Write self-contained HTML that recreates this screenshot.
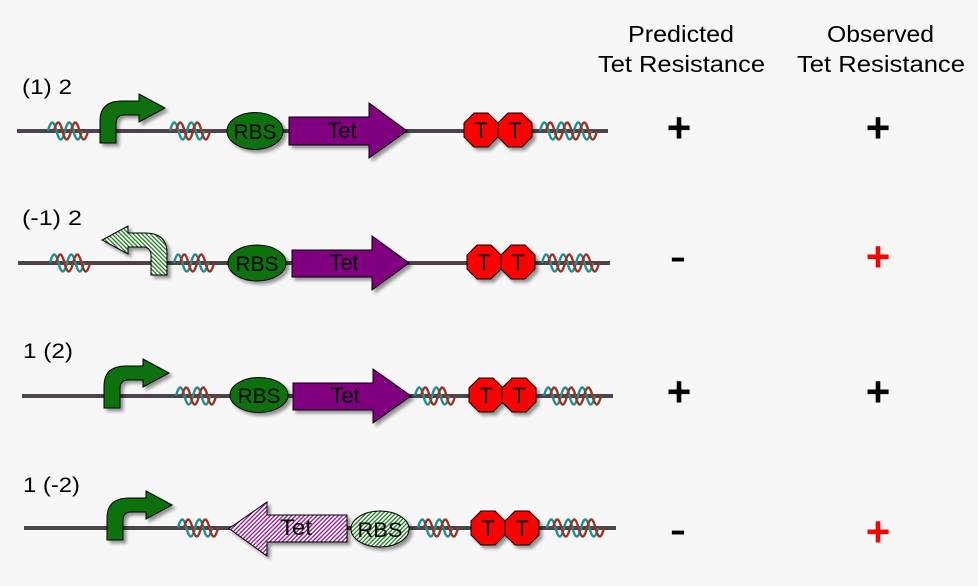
<!DOCTYPE html>
<html>
<head>
<meta charset="utf-8">
<style>
html,body{margin:0;padding:0;background:#f7f7f7;}
svg{display:block;}
text{font-family:"Liberation Sans",Arial,sans-serif;}
</style>
</head>
<body>
<svg width="978" height="586" viewBox="0 0 978 586" xmlns="http://www.w3.org/2000/svg">
<defs>
  <filter id="sh" x="-20%" y="-20%" width="150%" height="160%">
    <feDropShadow dx="3" dy="3" stdDeviation="1.6" flood-color="#000" flood-opacity="0.4"/>
  </filter>
  <pattern id="hg" width="3" height="3" patternUnits="userSpaceOnUse" patternTransform="rotate(45)">
    <rect width="3" height="3" fill="#ffffff"/>
    <line x1="0.8" y1="0" x2="0.8" y2="3" stroke="#0a6e0a" stroke-width="1.2"/>
  </pattern>
  <pattern id="hp" width="3" height="3" patternUnits="userSpaceOnUse" patternTransform="rotate(45)">
    <rect width="3" height="3" fill="#ffffff"/>
    <line x1="0.8" y1="0" x2="0.8" y2="3" stroke="#800080" stroke-width="1.2"/>
  </pattern>
  <g id="hx3">
    <path d="M0,0 Q4.25,-17 8.5,0 T17,0 T25.5,0 T34,0" fill="none" stroke="#1a9090" stroke-width="2.4"/>
    <path d="M6,0 Q10.25,-17 14.5,0 T23,0 T31.5,0 T40,0" fill="none" stroke="#993322" stroke-width="2.4"/>
  </g>
  <g id="hx4">
    <path d="M0,0 Q4.25,-17 8.5,0 T17,0 T25.5,0 T34,0 T42.5,0 T51,0" fill="none" stroke="#1a9090" stroke-width="2.4"/>
    <path d="M6,0 Q10.25,-17 14.5,0 T23,0 T31.5,0 T40,0 T48.5,0 T57,0" fill="none" stroke="#993322" stroke-width="2.4"/>
  </g>
  <path id="prom" d="M0,0 L0,-22 Q0,-42 22,-42 L39,-42 L39,-49 L65,-35 L39,-21 L39,-28 L24,-28 Q16,-28 16,-19 L16,0 Z"/>
  <polygon id="oct" points="-7,-17 7,-17 17,-7 17,7 7,17 -7,17 -17,7 -17,-7"/>
</defs>

<!-- Headers -->
<text x="628" y="42" font-size="23" textLength="106" lengthAdjust="spacingAndGlyphs">Predicted</text>
<text x="598" y="72" font-size="23" textLength="167" lengthAdjust="spacingAndGlyphs">Tet Resistance</text>
<text x="827" y="42" font-size="23" textLength="107" lengthAdjust="spacingAndGlyphs">Observed</text>
<text x="797" y="72" font-size="23" textLength="168" lengthAdjust="spacingAndGlyphs">Tet Resistance</text>

<!-- Row 1 -->
<text x="22" y="94" font-size="21" textLength="50" lengthAdjust="spacingAndGlyphs">(1) 2</text>
<path d="M17,131 H608" stroke="#4d434d" stroke-width="4"/>
<use href="#hx3" x="48" y="131"/>
<use href="#hx3" x="170" y="131"/>
<use href="#hx4" x="540" y="131"/>
<g filter="url(#sh)">
  <use href="#prom" transform="translate(100,143)" fill="#0b720b" stroke="#000" stroke-width="1"/>
  <ellipse cx="255" cy="131" rx="28" ry="18.5" fill="#0b720b" stroke="#000" stroke-width="1"/>
  <path d="M289,117 L369,117 L369,103 L407,131 L369,158 L369,145 L289,145 Z" fill="#800080" stroke="#000" stroke-width="1"/>
  <use href="#oct" transform="translate(481,130)" fill="#ff0000" stroke="#000" stroke-width="1"/>
  <use href="#oct" transform="translate(515,130)" fill="#ff0000" stroke="#000" stroke-width="1"/>
</g>
<text x="255" y="139" font-size="21" text-anchor="middle" textLength="43" lengthAdjust="spacingAndGlyphs">RBS</text>
<text x="342" y="138" font-size="22" text-anchor="middle">Tet</text>
<text x="481" y="138" font-size="22" text-anchor="middle">T</text>
<text x="515" y="138" font-size="22" text-anchor="middle">T</text>
<text x="679" y="142" font-size="42" font-weight="bold" text-anchor="middle">+</text>
<text x="878" y="142" font-size="42" font-weight="bold" text-anchor="middle">+</text>

<!-- Row 2 -->
<text x="22" y="225" font-size="21" textLength="60" lengthAdjust="spacingAndGlyphs">(-1) 2</text>
<path d="M18,263 H610" stroke="#4d434d" stroke-width="4"/>
<use href="#hx3" x="50" y="263"/>
<use href="#hx3" x="174" y="263"/>
<use href="#hx4" x="542" y="263"/>
<g filter="url(#sh)">
  <use href="#prom" transform="translate(167,275) scale(-1,1)" fill="url(#hg)" stroke="#000" stroke-width="1"/>
  <ellipse cx="257" cy="263" rx="29" ry="18" fill="#0b720b" stroke="#000" stroke-width="1"/>
  <path d="M292,250 L372,250 L372,236 L409,263 L372,290 L372,277 L292,277 Z" fill="#800080" stroke="#000" stroke-width="1"/>
  <use href="#oct" transform="translate(484,262)" fill="#ff0000" stroke="#000" stroke-width="1"/>
  <use href="#oct" transform="translate(518,262)" fill="#ff0000" stroke="#000" stroke-width="1"/>
</g>
<text x="257" y="271" font-size="21" text-anchor="middle" textLength="43" lengthAdjust="spacingAndGlyphs">RBS</text>
<text x="344" y="270" font-size="22" text-anchor="middle">Tet</text>
<text x="484" y="270" font-size="22" text-anchor="middle">T</text>
<text x="518" y="270" font-size="22" text-anchor="middle">T</text>
<text x="678" y="273" font-size="50" text-anchor="middle">-</text>
<text x="878" y="271" font-size="42" font-weight="bold" text-anchor="middle" fill="#ff0000">+</text>

<!-- Row 3 -->
<text x="23" y="358" font-size="21" textLength="50" lengthAdjust="spacingAndGlyphs">1 (2)</text>
<path d="M22,396 H613" stroke="#4d434d" stroke-width="4"/>
<use href="#hx3" x="176" y="396"/>
<use href="#hx3" x="415" y="396"/>
<use href="#hx4" x="544" y="396"/>
<g filter="url(#sh)">
  <use href="#prom" transform="translate(104,408)" fill="#0b720b" stroke="#000" stroke-width="1"/>
  <ellipse cx="259" cy="395" rx="29" ry="17.5" fill="#0b720b" stroke="#000" stroke-width="1"/>
  <path d="M293,383 L373,383 L373,369 L411,396 L373,423 L373,410 L293,410 Z" fill="#800080" stroke="#000" stroke-width="1"/>
  <use href="#oct" transform="translate(486,395)" fill="#ff0000" stroke="#000" stroke-width="1"/>
  <use href="#oct" transform="translate(519,395)" fill="#ff0000" stroke="#000" stroke-width="1"/>
</g>
<text x="259" y="403" font-size="21" text-anchor="middle" textLength="43" lengthAdjust="spacingAndGlyphs">RBS</text>
<text x="345" y="403" font-size="22" text-anchor="middle">Tet</text>
<text x="486" y="403" font-size="22" text-anchor="middle">T</text>
<text x="519" y="403" font-size="22" text-anchor="middle">T</text>
<text x="679" y="406" font-size="42" font-weight="bold" text-anchor="middle">+</text>
<text x="878" y="406" font-size="42" font-weight="bold" text-anchor="middle">+</text>

<!-- Row 4 -->
<text x="23" y="492" font-size="21" textLength="57" lengthAdjust="spacingAndGlyphs">1 (-2)</text>
<path d="M24,528 H616" stroke="#4d434d" stroke-width="4"/>
<use href="#hx3" x="178" y="528"/>
<use href="#hx3" x="418" y="528"/>
<use href="#hx4" x="547" y="528"/>
<g filter="url(#sh)">
  <use href="#prom" transform="translate(107,540)" fill="#0b720b" stroke="#000" stroke-width="1"/>
  <path d="M347,515 L267,515 L267,502 L229,528.5 L267,556 L267,542 L347,542 Z" fill="url(#hp)" stroke="#000" stroke-width="1"/>
  <ellipse cx="380" cy="529" rx="29" ry="18" fill="url(#hg)" stroke="#000" stroke-width="1"/>
  <use href="#oct" transform="translate(488,528)" fill="#ff0000" stroke="#000" stroke-width="1"/>
  <use href="#oct" transform="translate(522,528)" fill="#ff0000" stroke="#000" stroke-width="1"/>
</g>
<text x="296" y="535" font-size="22" text-anchor="middle" textLength="32" lengthAdjust="spacingAndGlyphs">Tet</text>
<text x="380" y="537" font-size="21" text-anchor="middle" textLength="45" lengthAdjust="spacingAndGlyphs">RBS</text>
<text x="488" y="536" font-size="22" text-anchor="middle">T</text>
<text x="522" y="536" font-size="22" text-anchor="middle">T</text>
<text x="678" y="546" font-size="50" text-anchor="middle">-</text>
<text x="878" y="546" font-size="42" font-weight="bold" text-anchor="middle" fill="#ff0000">+</text>
</svg>
</body>
</html>
